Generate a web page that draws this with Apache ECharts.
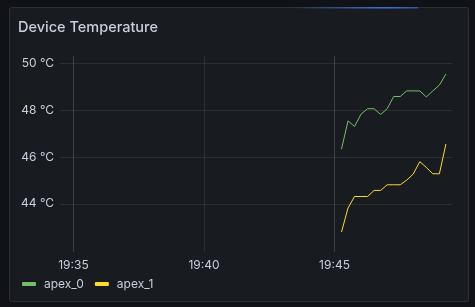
<!DOCTYPE html>
<html>
<head>
<meta charset="utf-8">
<script src="https://cdn.jsdelivr.net/npm/echarts@6/dist/echarts.min.js"></script>
<style>
  html, body { margin: 0; padding: 0; background: #111217; }
  #chart { width: 475px; height: 307px; }
</style>
</head>
<body>
<div id="chart"></div>
<script>
// sample times (15 s apart)
let times = [
  '2024-01-01 19:45:16', '2024-01-01 19:45:31', '2024-01-01 19:45:46', '2024-01-01 19:46:01',
  '2024-01-01 19:46:16', '2024-01-01 19:46:31', '2024-01-01 19:46:46', '2024-01-01 19:47:01',
  '2024-01-01 19:47:16', '2024-01-01 19:47:31', '2024-01-01 19:47:46', '2024-01-01 19:48:01',
  '2024-01-01 19:48:16', '2024-01-01 19:48:31', '2024-01-01 19:48:46', '2024-01-01 19:49:01',
  '2024-01-01 19:49:16'
];
let apex0 = [46.33, 47.54, 47.30, 47.83, 48.06, 48.06, 47.81, 48.06, 48.58, 48.58, 48.82, 48.82, 48.82, 48.56, 48.82, 49.07, 49.54];
let apex1 = [42.79, 43.82, 44.31, 44.31, 44.31, 44.57, 44.57, 44.81, 44.81, 44.81, 45.01, 45.27, 45.80, 45.55, 45.28, 45.28, 46.55];
let xTicks = ['2024-01-01 19:35:00', '2024-01-01 19:40:00', '2024-01-01 19:45:00'];
let yTicks = [44, 46, 48, 50];
let seriesNames = ['apex_0', 'apex_1'];

let textColor = '#ccccdc';
let gridColor = 'rgba(204,204,220,0.1)';
let font = 'Inter, "Noto Sans", sans-serif';

function pairs(vals) {
  return vals.map((v, i) => [times[i], v]);
}
let xTickVals = xTicks.map(t => echarts.time.parse(t).getTime());

let chart = echarts.init(document.getElementById('chart'));
chart.setOption({
  backgroundColor: '#111217',
  animation: false,
  graphic: [
    {
      type: 'rect', z: -10,
      shape: { x: 9.5, y: 7.5, width: 459, height: 294, r: 2 },
      style: { fill: '#181b1f', stroke: '#2c2f35', lineWidth: 1 }
    },
    {
      type: 'rect', z: 10,
      shape: { x: 290, y: 7, width: 128, height: 1.5 },
      style: {
        fill: new echarts.graphic.LinearGradient(0, 0, 1, 0, [
          { offset: 0, color: 'rgba(61,113,217,0)' },
          { offset: 0.75, color: 'rgba(61,113,217,1)' },
          { offset: 1, color: 'rgba(61,113,217,0.6)' }
        ])
      }
    }
  ],
  title: {
    text: 'Device Temperature',
    left: 13, top: 15,
    textStyle: { color: textColor, fontSize: 14.5, fontWeight: 500, fontFamily: font }
  },
  legend: {
    data: seriesNames,
    left: 17, top: 273,
    icon: 'roundRect',
    itemWidth: 14, itemHeight: 4,
    itemGap: 11,
    textStyle: { color: textColor, fontSize: 12, fontFamily: font, padding: [0, 0, 0, 3] }
  },
  grid: { left: 60, right: 23, top: 56, bottom: 55 },
  xAxis: {
    type: 'time',
    min: echarts.time.parse('2024-01-01 19:34:29').getTime(),
    max: echarts.time.parse('2024-01-01 19:49:30').getTime(),
    axisLine: { show: false },
    axisTick: { show: false, customValues: xTickVals },
    axisLabel: {
      customValues: xTickVals,
      color: textColor, fontSize: 12, fontFamily: font, margin: 7,
      formatter: '{HH}:{mm}'
    },
    splitLine: { show: true, lineStyle: { color: gridColor, width: 1 } }
  },
  yAxis: {
    type: 'value',
    min: 41.94, max: 50.31,
    axisLine: { show: false },
    axisTick: { show: false, customValues: yTicks },
    axisLabel: {
      customValues: yTicks,
      color: textColor, fontSize: 12, fontFamily: font, margin: 6,
      formatter: '{value} °C'
    },
    splitLine: { show: true, lineStyle: { color: gridColor, width: 1 } }
  },
  series: [
    {
      name: seriesNames[0], type: 'line', data: pairs(apex0),
      showSymbol: false, color: '#73bf69', lineStyle: { width: 1 }
    },
    {
      name: seriesNames[1], type: 'line', data: pairs(apex1),
      showSymbol: false, color: '#fade2a', lineStyle: { width: 1 }
    }
  ]
});
</script>
</body>
</html>
